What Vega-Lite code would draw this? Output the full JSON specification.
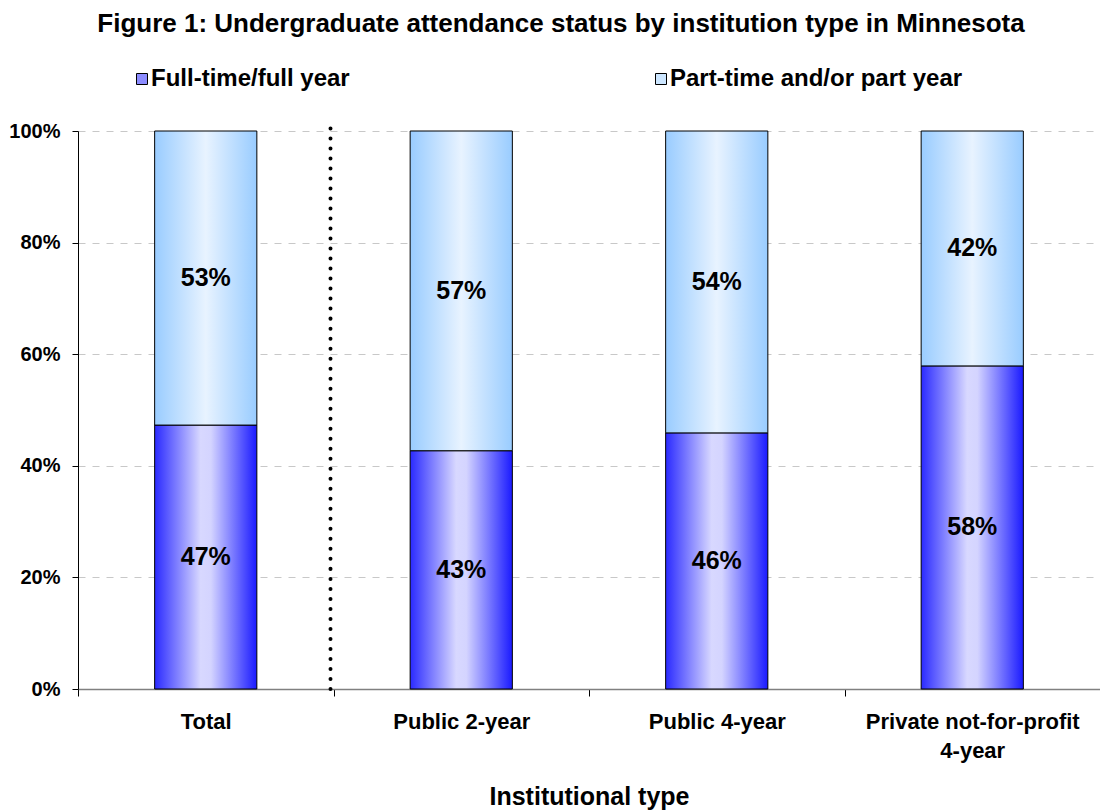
{
  "$schema": "https://vega.github.io/schema/vega-lite/v6.json",
  "width": 1022,
  "height": 558,
  "autosize": "none",
  "padding": {"left": 78, "top": 131, "right": 0, "bottom": 123},
  "background": "white",
  "config": {"font": "Liberation Sans", "view": {"stroke": null}},
  "title": {
    "text": "Figure 1: Undergraduate attendance status by institution type in Minnesota",
    "fontSize": 26,
    "fontWeight": "bold",
    "color": "black",
    "anchor": "middle",
    "frame": "group",
    "dx": -28,
    "offset": 30
  },
  "data": {
    "values": [
      {"type": "Total", "status": "Full-time/full year", "value": 0.473},
      {"type": "Total", "status": "Part-time and/or part year", "value": 0.527},
      {"type": "Public 2-year", "status": "Full-time/full year", "value": 0.427},
      {"type": "Public 2-year", "status": "Part-time and/or part year", "value": 0.573},
      {"type": "Public 4-year", "status": "Full-time/full year", "value": 0.459},
      {"type": "Public 4-year", "status": "Part-time and/or part year", "value": 0.541},
      {"type": "Private not-for-profit 4-year", "status": "Full-time/full year", "value": 0.579},
      {"type": "Private not-for-profit 4-year", "status": "Part-time and/or part year", "value": 0.421}
    ]
  },
  "transform": [
    {"stack": "value", "groupby": ["type"], "sort": [{"field": "status", "order": "ascending"}], "as": ["v0", "v1"]},
    {"calculate": "(datum.v0 + datum.v1) / 2", "as": "mid"}
  ],
  "encoding": {
    "x": {
      "field": "type",
      "type": "nominal",
      "sort": null,
      "scale": {"paddingInner": 0, "paddingOuter": 0},
      "title": "Institutional type",
      "axis": {
        "tickBand": "extent",
        "labelAngle": 0,
        "labelFontSize": 22,
        "labelFontWeight": "bold",
        "labelColor": "black",
        "labelPadding": 15,
        "labelLineHeight": 29,
        "labelLimit": 400,
        "labelExpr": "datum.label == 'Private not-for-profit 4-year' ? ['Private not-for-profit', '4-year'] : (datum.label == 'Total' ? '\u00a0\u00a0\u00a0\u00a0Total' : datum.label)",
        "tickColor": "black",
        "tickSize": 7,
        "domainColor": "#808080",
        "domainWidth": 1.5,
        "titleFontSize": 25,
        "titleFontWeight": "bold",
        "titleColor": "black",
        "titlePadding": 23
      }
    }
  },
  "layer": [
    {
      "transform": [{"filter": "datum.status === 'Full-time/full year'"}],
      "mark": {
        "type": "bar",
        "stroke": "black",
        "strokeWidth": 1,
        "width": {"band": 0.4},
        "fill": {"gradient": "linear", "x1": 0, "y1": 0, "x2": 1, "y2": 0, "stops": [{"offset": 0, "color": "#2a2aff"}, {"offset": 0.45, "color": "#d8d8ff"}, {"offset": 0.55, "color": "#d4d4ff"}, {"offset": 1, "color": "#1a1aff"}]}
      },
      "encoding": {
        "y": {
          "field": "v0",
          "type": "quantitative",
          "scale": {"domain": [0, 1], "nice": false},
          "title": null,
          "axis": {
            "values": [0, 0.2, 0.4, 0.6, 0.8, 1],
            "format": ".0%",
            "labelFontSize": 20,
            "labelFontWeight": "bold",
            "labelColor": "black",
            "labelPadding": 12,
            "tickSize": 6,
            "tickColor": "black",
            "domainColor": "black",
            "grid": true,
            "gridColor": "#c8c8c8",
            "gridDash": [7, 7]
          }
        },
        "y2": {"field": "v1"}
      }
    },
    {
      "transform": [{"filter": "datum.status === 'Part-time and/or part year'"}],
      "mark": {
        "type": "bar",
        "stroke": "black",
        "strokeWidth": 1,
        "width": {"band": 0.4},
        "fill": {"gradient": "linear", "x1": 0, "y1": 0, "x2": 1, "y2": 0, "stops": [{"offset": 0, "color": "#99ccff"}, {"offset": 0.5, "color": "#e8f3ff"}, {"offset": 1, "color": "#99ccff"}]}
      },
      "encoding": {
        "y": {"field": "v0", "type": "quantitative", "title": null},
        "y2": {"field": "v1"}
      }
    },
    {
      "mark": {"type": "text", "fontSize": 25, "fontWeight": "bold", "color": "black"},
      "encoding": {
        "y": {"field": "mid", "type": "quantitative", "title": null},
        "text": {"field": "value", "format": ".0%"}
      }
    },
    {
      "transform": [{"filter": "datum.value < 0"}],
      "mark": {"type": "bar"},
      "encoding": {
        "color": {
          "field": "status",
          "type": "nominal",
          "scale": {
            "domain": ["Full-time/full year", "Part-time and/or part year"],
            "range": ["#8c8cff", "#cce6ff"]
          },
          "legend": {
            "orient": "none",
            "legendX": 52,
            "legendY": -64,
            "direction": "horizontal",
            "title": null,
            "symbolType": "square",
            "symbolSize": 121,
            "symbolStrokeColor": "black",
            "symbolStrokeWidth": 1,
            "symbolOpacity": 1,
            "labelFontSize": 24,
            "labelFontWeight": "bold",
            "labelColor": "black",
            "labelOffset": -3,
            "labelLimit": 400,
            "columnPadding": 299,
            "encode": {
              "symbols": {
                "update": {
                  "fill": [
                    {"test": "datum.value === 'Full-time/full year'", "value": {"gradient": "linear", "x1": 0, "y1": 0, "x2": 1, "y2": 0, "stops": [{"offset": 0, "color": "#2a2aff"}, {"offset": 0.45, "color": "#d8d8ff"}, {"offset": 0.55, "color": "#d4d4ff"}, {"offset": 1, "color": "#1a1aff"}]}},
                    {"value": {"gradient": "linear", "x1": 0, "y1": 0, "x2": 1, "y2": 0, "stops": [{"offset": 0, "color": "#99ccff"}, {"offset": 0.5, "color": "#e8f3ff"}, {"offset": 1, "color": "#99ccff"}]}}
                  ],
                  "stroke": {"value": "black"}
                }
              }
            }
          }
        }
      }
    },
    {
      "data": {"values": [{}]},
      "mark": {"type": "rule", "strokeDash": [0.01, 10], "strokeCap": "round", "strokeWidth": 4, "color": "black", "xOffset": -3},
      "encoding": {
        "x": {"datum": "Public 2-year", "type": "nominal", "bandPosition": 0},
        "y": {"datum": 0, "type": "quantitative"},
        "y2": {"datum": 1.015}
      }
    }
  ]
}
